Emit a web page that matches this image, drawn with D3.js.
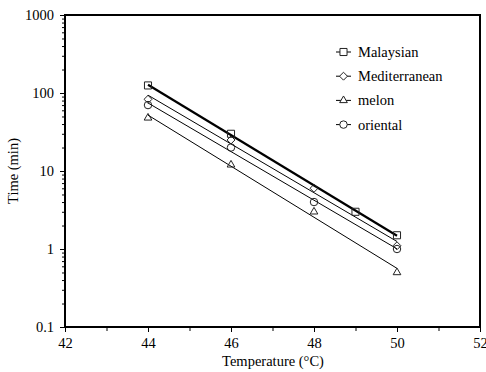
<!DOCTYPE html>
<html>
<head>
<meta charset="utf-8">
<script src="https://cdn.jsdelivr.net/npm/d3@7"></script>
<style>
  body {margin: 0; background: #fff;}
</style>
</head>
<body>
<div class="chart"></div>
<script>
// values
var seriesNames = ['Malaysian', 'Mediterranean', 'melon', 'oriental']
var symbols = ['square', 'diamond', 'triangle', 'circle']
var malaysian = [[44, 125], [46, 30], [49, 3], [50, 1.5]]
var mediterranean = [[44, 83], [46, 25], [48, 6], [50, 1.1]]
var melon = [[44, 48], [46, 12], [48, 3], [50, 0.5]]
var oriental = [[44, 70], [46, 20], [48, 4], [50, 1]]
var xTicks = [42, 44, 46, 48, 50, 52]
var yTicks = [0.1, 1, 10, 100, 1000]

var FONT = 'Liberation Serif, Times New Roman, serif'
var FS = '14.5px'

var series = [malaysian, mediterranean, melon, oriental].map((pts, i) => ({
  name: seriesNames[i], symbol: symbols[i], pts, thick: i == 0
}))

var margin = {left: 65, top: 15}
var width = 415, height = 312

var svg = d3.select('.chart').html('').append('svg')
  .attr('width', 486).attr('height', 372)
var g = svg.append('g').attr('transform', `translate(${margin.left},${margin.top})`)

var x = d3.scaleLinear().domain([42, 52]).range([0, width])
var y = d3.scaleLog().domain([0.1, 1000]).range([height, 0])

// minor ticks
var xMinor = d3.range(42, 53, 1)
g.append('g').attr('transform', `translate(0,${height})`)
  .call(d3.axisBottom(x).tickValues(xMinor).tickSize(4).tickFormat(''))
  .call(s => s.select('.domain').remove())
var yMinor = []
yTicks.slice(0, -1).forEach(t => d3.range(2, 10).forEach(k => yMinor.push(t * k)))
g.append('g')
  .call(d3.axisLeft(y).tickValues(yMinor).tickSize(3).tickFormat(''))
  .call(s => s.select('.domain').remove())

// major axes
var xAxis = g.append('g').attr('transform', `translate(0,${height})`)
  .call(d3.axisBottom(x).tickValues(xTicks).tickSize(5).tickPadding(6).tickFormat(d3.format('d')))
var yAxis = g.append('g')
  .call(d3.axisLeft(y).tickValues(yTicks).tickSize(5).tickPadding(6).tickFormat(d => d < 1 ? '0.1' : d3.format('d')(d)))
;[xAxis, yAxis].forEach(a => {
  a.attr('font-family', FONT).attr('font-size', FS)
  a.selectAll('text').attr('fill', '#000')
  a.select('.domain').remove()
})
g.selectAll('.tick line').attr('stroke', '#000').attr('stroke-width', 1)

// frame
g.append('rect').attr('width', width).attr('height', height)
  .attr('fill', 'none').attr('stroke', '#000').attr('stroke-width', 2)

// least-squares fit in log space for each series
function fit(pts) {
  var xs = pts.map(d => d[0]), ys = pts.map(d => Math.log10(d[1]))
  var mx = d3.mean(xs), my = d3.mean(ys)
  var sxy = d3.sum(xs, (v, i) => (v - mx) * (ys[i] - my))
  var sxx = d3.sum(xs, v => (v - mx) * (v - mx))
  var b = sxy / sxx, a = my - b * mx
  return d3.extent(xs).map(v => [v, Math.pow(10, a + b * v)])
}

var line = d3.line().x(d => x(d[0])).y(d => y(d[1]))
series.forEach(s => {
  g.append('path').datum(fit(s.pts))
    .attr('d', line).attr('fill', 'none').attr('stroke', '#000')
    .attr('stroke-width', s.thick ? 2.2 : 1)
})

var symSize = {square: 50, diamond: 40, triangle: 42, circle: 44}
var symType = {square: d3.symbolSquare, diamond: d3.symbolDiamond2, triangle: d3.symbolTriangle2, circle: d3.symbolCircle}
function sym(name) { return d3.symbol().type(symType[name]).size(symSize[name])() }

series.forEach(s => {
  g.selectAll(null).data(s.pts).join('path')
    .attr('d', sym(s.symbol))
    .attr('transform', d => `translate(${x(d[0])},${y(d[1])})`)
    .attr('fill', 'none').attr('stroke', '#222').attr('stroke-width', 1)
})

// legend
var legend = svg.append('g').attr('transform', 'translate(336,52)')
  .attr('font-family', FONT).attr('font-size', FS)
series.forEach((s, i) => {
  var row = legend.append('g').attr('transform', `translate(0,${i * 24.2})`)
  row.append('line').attr('x1', 0).attr('x2', 15).attr('stroke', '#000')
  row.append('path').attr('d', sym(s.symbol)).attr('transform', 'translate(7.5,0)')
    .attr('fill', '#fff').attr('stroke', '#222')
  row.append('text').attr('x', 22).attr('dy', '0.35em').text(s.name)
})

// axis titles
svg.append('text').attr('x', 273).attr('y', 366).attr('text-anchor', 'middle')
  .attr('font-family', FONT).attr('font-size', FS).text('Temperature (°C)')
svg.append('text').attr('transform', 'translate(18,171) rotate(-90)').attr('text-anchor', 'middle')
  .attr('font-family', FONT).attr('font-size', FS).text('Time (min)')
</script>
</body>
</html>
